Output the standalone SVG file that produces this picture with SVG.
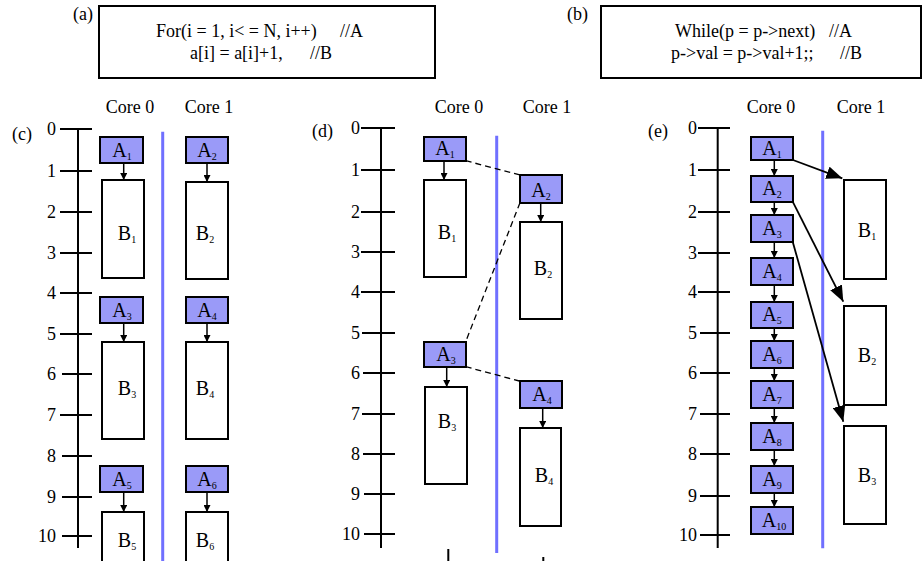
<svg xmlns="http://www.w3.org/2000/svg" width="924" height="561" viewBox="0 0 924 561">
  <defs>
    <marker id="head" viewBox="0 0 7 7" refX="7" refY="3.5" markerWidth="7" markerHeight="7" markerUnits="userSpaceOnUse" orient="auto">
      <path d="M0,0 L7,3.5 L0,7 z" fill="#000"/>
    </marker>
    <marker id="bighead" viewBox="0 0 16 13" refX="16" refY="6.5" markerWidth="16" markerHeight="13" markerUnits="userSpaceOnUse" orient="auto">
      <path d="M0,0 L16,6.5 L0,13 z" fill="#000"/>
    </marker>
    <style>
      text { font-family: "Liberation Serif", "Times New Roman", serif; font-size: 18px; fill: #000; }
      .num { text-anchor: end; }
      .mid { text-anchor: middle; }
      .lab { text-anchor: middle; font-size: 20px; }
      .sub { font-size: 10px; }
      .frame { fill: #fff; stroke: #000; stroke-width: 2; }
      .abox { fill: #9a9af8; stroke: #000; stroke-width: 2; }
      .bbox { fill: #fff; stroke: #000; stroke-width: 2; }
      .axis { stroke: #000; stroke-width: 2; fill: none; }
      .core { stroke: #7070ff; stroke-width: 3; fill: none; }
      .conn { stroke: #000; stroke-width: 1.5; fill: none; marker-end: url(#head); }
      .dash { stroke: #000; stroke-width: 1.3; fill: none; stroke-dasharray: 6 4; }
      .big { stroke: #000; stroke-width: 1.8; fill: none; marker-end: url(#bighead); }
    </style>
  </defs>

  <!-- (a) array loop -->
  <g id="code-a">
    <text x="73" y="20">(a)</text>
    <rect class="frame" x="99" y="6" width="336" height="72"/>
    <text x="156" y="37">For(i = 1, i&lt; = N, i++)</text>
    <text x="340" y="37">//A</text>
    <text x="190" y="59">a[i] = a[i]+1,</text>
    <text x="310" y="59">//B</text>
  </g>

  <!-- (b) linked-list loop -->
  <g id="code-b">
    <text x="567" y="20">(b)</text>
    <rect class="frame" x="601" y="6" width="320" height="72"/>
    <text x="675" y="37">While(p = p-&gt;next)</text>
    <text x="829" y="37">//A</text>
    <text x="671" y="59">p-&gt;val = p-&gt;val+1;;</text>
    <text x="840" y="59">//B</text>
  </g>

  <!-- (c) timeline -->
  <g id="timeline-c">
    <text x="12" y="140">(c)</text>
    <text class="mid" x="130" y="113">Core 0</text>
    <text class="mid" x="209" y="113">Core 1</text>
    <line class="axis" x1="78" y1="129" x2="78" y2="548"/>
    <path class="axis" d="M60,129H92 M60,171H92 M60,212H92 M60,253H92 M60,293H92 M60,334H92 M62,374H92 M60,415H92 M62,456H92 M62,497H92 M62,536H92"/>
    <text class="num" x="56" y="135">0</text>
    <text class="num" x="56" y="177">1</text>
    <text class="num" x="56" y="218">2</text>
    <text class="num" x="56" y="259">3</text>
    <text class="num" x="56" y="299">4</text>
    <text class="num" x="56" y="340">5</text>
    <text class="num" x="56" y="380">6</text>
    <text class="num" x="56" y="421">7</text>
    <text class="num" x="56" y="462">8</text>
    <text class="num" x="56" y="503">9</text>
    <text class="num" x="56" y="542">10</text>
    <line class="core" x1="162.7" y1="131.7" x2="162.7" y2="561"/>
  </g>
  <g id="c-A1"><rect class="abox" x="100" y="137" width="43" height="26"/><text class="lab" x="122" y="157">A<tspan class="sub" dy="3">1</tspan></text></g>
  <g id="c-B1"><rect class="bbox" x="102" y="180" width="42" height="98"/><text class="lab" x="127" y="240">B<tspan class="sub" dy="3">1</tspan></text></g>
  <g id="c-A2"><rect class="abox" x="186" y="137" width="42" height="26"/><text class="lab" x="207" y="157">A<tspan class="sub" dy="3">2</tspan></text></g>
  <g id="c-B2"><rect class="bbox" x="186" y="182" width="42" height="97"/><text class="lab" x="205" y="240">B<tspan class="sub" dy="3">2</tspan></text></g>
  <g id="c-A3"><rect class="abox" x="100" y="297" width="43" height="26"/><text class="lab" x="122" y="317">A<tspan class="sub" dy="3">3</tspan></text></g>
  <g id="c-B3"><rect class="bbox" x="102" y="342" width="42" height="97"/><text class="lab" x="127" y="395">B<tspan class="sub" dy="3">3</tspan></text></g>
  <g id="c-A4"><rect class="abox" x="186" y="297" width="42" height="26"/><text class="lab" x="207" y="317">A<tspan class="sub" dy="3">4</tspan></text></g>
  <g id="c-B4"><rect class="bbox" x="186" y="342" width="42" height="97"/><text class="lab" x="205" y="395">B<tspan class="sub" dy="3">4</tspan></text></g>
  <g id="c-A5"><rect class="abox" x="100" y="466" width="43" height="26"/><text class="lab" x="122" y="486">A<tspan class="sub" dy="3">5</tspan></text></g>
  <g id="c-B5"><rect class="bbox" x="102" y="512" width="42" height="70"/><text class="lab" x="127" y="547">B<tspan class="sub" dy="3">5</tspan></text></g>
  <g id="c-A6"><rect class="abox" x="186" y="466" width="42" height="26"/><text class="lab" x="207" y="486">A<tspan class="sub" dy="3">6</tspan></text></g>
  <g id="c-B6"><rect class="bbox" x="186" y="512" width="42" height="70"/><text class="lab" x="205" y="547">B<tspan class="sub" dy="3">6</tspan></text></g>

  <!-- (d) timeline -->
  <g id="timeline-d">
    <text x="312" y="137">(d)</text>
    <text class="mid" x="459" y="113">Core 0</text>
    <text class="mid" x="547" y="113">Core 1</text>
    <line class="axis" x1="381" y1="128" x2="381" y2="548"/>
    <path class="axis" d="M361,128H395 M361,170H395 M361,212H395 M361,252H395 M361,292H395 M362,333H395 M363,373H395 M362,414H395 M363,454H395 M364,494H395 M364,534H395"/>
    <text class="num" x="360" y="134">0</text>
    <text class="num" x="360" y="176">1</text>
    <text class="num" x="360" y="218">2</text>
    <text class="num" x="360" y="258">3</text>
    <text class="num" x="360" y="298">4</text>
    <text class="num" x="360" y="339">5</text>
    <text class="num" x="360" y="379">6</text>
    <text class="num" x="360" y="420">7</text>
    <text class="num" x="360" y="460">8</text>
    <text class="num" x="360" y="500">9</text>
    <text class="num" x="360" y="540">10</text>
    <line class="core" x1="496.7" y1="135.7" x2="496.7" y2="553"/>
    <line x1="448.3" y1="549" x2="448.3" y2="561" stroke="#000" stroke-width="2"/>
    <line x1="543.3" y1="557" x2="543.3" y2="561" stroke="#000" stroke-width="2"/>
  </g>
  <g id="d-A1"><rect class="abox" x="424" y="137" width="42" height="24"/><text class="lab" x="445" y="155">A<tspan class="sub" dy="3">1</tspan></text></g>
  <g id="d-B1"><rect class="bbox" x="424" y="180" width="42" height="97"/><text class="lab" x="447" y="239">B<tspan class="sub" dy="3">1</tspan></text></g>
  <g id="d-A2"><rect class="abox" x="520" y="175" width="42" height="28"/><text class="lab" x="541" y="197">A<tspan class="sub" dy="3">2</tspan></text></g>
  <g id="d-B2"><rect class="bbox" x="520" y="222" width="42" height="97"/><text class="lab" x="543" y="275">B<tspan class="sub" dy="3">2</tspan></text></g>
  <g id="d-A3"><rect class="abox" x="424" y="342" width="42" height="25"/><text class="lab" x="446" y="361">A<tspan class="sub" dy="3">3</tspan></text></g>
  <g id="d-B3"><rect class="bbox" x="425" y="387" width="42" height="97"/><text class="lab" x="447" y="428">B<tspan class="sub" dy="3">3</tspan></text></g>
  <g id="d-A4"><rect class="abox" x="520" y="381" width="42" height="27"/><text class="lab" x="542" y="401">A<tspan class="sub" dy="3">4</tspan></text></g>
  <g id="d-B4"><rect class="bbox" x="520" y="428" width="41" height="98"/><text class="lab" x="544" y="482">B<tspan class="sub" dy="3">4</tspan></text></g>

  <!-- (e) timeline -->
  <g id="timeline-e">
    <text x="648" y="137">(e)</text>
    <text class="mid" x="771" y="113">Core 0</text>
    <text class="mid" x="861" y="113">Core 1</text>
    <line class="axis" x1="717.7" y1="128" x2="717.7" y2="548"/>
    <path class="axis" d="M698,128H730 M698,170H730 M698,212H730 M698,253H730 M698,292H730 M700,333H730 M700,373H730 M700,414H730 M700,454H730 M700,496H730 M700,535H730"/>
    <text class="num" x="697" y="134">0</text>
    <text class="num" x="697" y="176">1</text>
    <text class="num" x="697" y="218">2</text>
    <text class="num" x="697" y="259">3</text>
    <text class="num" x="697" y="298">4</text>
    <text class="num" x="697" y="339">5</text>
    <text class="num" x="697" y="379">6</text>
    <text class="num" x="697" y="420">7</text>
    <text class="num" x="697" y="460">8</text>
    <text class="num" x="697" y="502">9</text>
    <text class="num" x="697" y="541">10</text>
    <line class="core" x1="822.7" y1="130.7" x2="822.7" y2="548.3"/>
  </g>
  <g id="e-A1"><rect class="abox" x="751" y="137" width="42" height="23"/><text class="lab" x="772" y="155">A<tspan class="sub" dy="3">1</tspan></text></g>
  <g id="e-A2"><rect class="abox" x="751" y="176" width="42" height="26"/><text class="lab" x="772" y="195">A<tspan class="sub" dy="3">2</tspan></text></g>
  <g id="e-A3"><rect class="abox" x="751" y="215" width="42" height="27"/><text class="lab" x="772" y="235">A<tspan class="sub" dy="3">3</tspan></text></g>
  <g id="e-A4"><rect class="abox" x="751" y="258" width="42" height="27"/><text class="lab" x="772" y="278">A<tspan class="sub" dy="3">4</tspan></text></g>
  <g id="e-A5"><rect class="abox" x="751" y="302" width="42" height="26"/><text class="lab" x="772" y="321">A<tspan class="sub" dy="3">5</tspan></text></g>
  <g id="e-A6"><rect class="abox" x="751" y="341" width="42" height="27"/><text class="lab" x="772" y="361">A<tspan class="sub" dy="3">6</tspan></text></g>
  <g id="e-A7"><rect class="abox" x="751" y="381" width="42" height="27"/><text class="lab" x="772" y="401">A<tspan class="sub" dy="3">7</tspan></text></g>
  <g id="e-A8"><rect class="abox" x="751" y="423" width="42" height="27"/><text class="lab" x="772" y="443">A<tspan class="sub" dy="3">8</tspan></text></g>
  <g id="e-A9"><rect class="abox" x="751" y="466" width="42" height="27"/><text class="lab" x="772" y="486">A<tspan class="sub" dy="3">9</tspan></text></g>
  <g id="e-A10"><rect class="abox" x="751" y="507" width="42" height="27"/><text class="lab" x="774" y="527">A<tspan class="sub" dy="3">10</tspan></text></g>
  <g id="e-B1"><rect class="bbox" x="844" y="180" width="42" height="99"/><text class="lab" x="867" y="237">B<tspan class="sub" dy="3">1</tspan></text></g>
  <g id="e-B2"><rect class="bbox" x="844" y="306" width="42" height="99"/><text class="lab" x="867" y="362">B<tspan class="sub" dy="3">2</tspan></text></g>
  <g id="e-B3"><rect class="bbox" x="844" y="426" width="42" height="98"/><text class="lab" x="867" y="482">B<tspan class="sub" dy="3">3</tspan></text></g>

  <!-- connectors -->
  <g id="connectors">
    <!-- (c) A -> B -->
    <line class="conn" x1="123.7" y1="163" x2="123.7" y2="180"/>
    <line class="conn" x1="207" y1="163" x2="207" y2="182"/>
    <line class="conn" x1="123.7" y1="323" x2="123.7" y2="342"/>
    <line class="conn" x1="207" y1="323" x2="207" y2="342"/>
    <line class="conn" x1="123.7" y1="492" x2="123.7" y2="512"/>
    <line class="conn" x1="207" y1="492" x2="207" y2="512"/>
    <!-- (d) A -> B and hand-offs -->
    <line class="conn" x1="444" y1="161" x2="444" y2="180"/>
    <line class="conn" x1="540.7" y1="203" x2="540.7" y2="222"/>
    <line class="conn" x1="446.7" y1="367" x2="446.7" y2="387"/>
    <line class="conn" x1="542.7" y1="408" x2="542.7" y2="428"/>
    <line class="dash" x1="465.7" y1="160.7" x2="520" y2="175"/>
    <line class="dash" x1="520" y1="202.7" x2="465.7" y2="341.7"/>
    <line class="dash" x1="465.7" y1="366.7" x2="519.3" y2="381"/>
    <!-- (e) A chain -->
    <line class="conn" x1="774.3" y1="160" x2="774.3" y2="176"/>
    <line class="conn" x1="774.3" y1="202" x2="774.3" y2="215"/>
    <line class="conn" x1="774.3" y1="242" x2="774.3" y2="258"/>
    <line class="conn" x1="774.3" y1="285" x2="774.3" y2="302"/>
    <line class="conn" x1="774.3" y1="328" x2="774.3" y2="341"/>
    <line class="conn" x1="774.3" y1="368" x2="774.3" y2="381"/>
    <line class="conn" x1="774.3" y1="408" x2="774.3" y2="423"/>
    <line class="conn" x1="774.3" y1="450" x2="774.3" y2="466"/>
    <line class="conn" x1="774.3" y1="493" x2="774.3" y2="507"/>
    <!-- (e) A -> B on core 1 -->
    <line class="big" x1="793" y1="160" x2="842.3" y2="178.3"/>
    <line class="big" x1="792.7" y1="201.7" x2="843.3" y2="301.7"/>
    <line class="big" x1="792.7" y1="241.7" x2="843.3" y2="421.7"/>
  </g>
</svg>
